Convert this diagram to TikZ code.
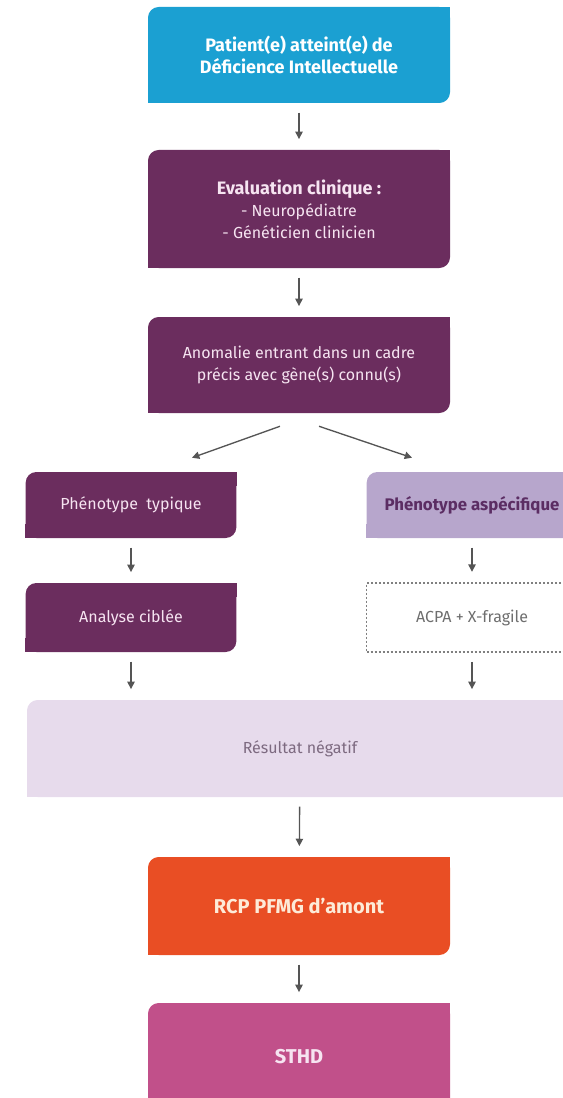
\documentclass[tikz,border=0pt]{standalone}
\usepackage{fontspec}
\setmainfont{Fira Sans}
\usetikzlibrary{arrows.meta, calc}

\definecolor{cblue}{HTML}{1BA0D2}
\definecolor{cplum}{HTML}{6B2D5E}
\definecolor{clilac}{HTML}{B7A6CC}
\definecolor{cmist}{HTML}{E7DBEC}
\definecolor{corange}{HTML}{E94E24}
\definecolor{cpink}{HTML}{C1508A}
\definecolor{carrow}{HTML}{555555}
\definecolor{tpale}{HTML}{F6E4F1}
\definecolor{tcream}{HTML}{FDEBD8}
\definecolor{tdeep}{HTML}{5B2D63}
\definecolor{tgrey}{HTML}{6E6E6E}
\definecolor{tmauve}{HTML}{7D6A80}

\begin{document}
\begin{tikzpicture}[x=0.75pt,y=-0.75pt,
    leaf/.style={fill=#1, rounded corners=8pt,
        append after command={\pgfextra{
            \fill[#1, sharp corners] (\tikzlastnode.north east) rectangle ++(-14,14);
            \fill[#1, sharp corners] (\tikzlastnode.south west) rectangle ++(14,-14);}}},
    box/.style={inner sep=0pt, align=center, font=\fontsize{12}{16.5}\selectfont},
    heavy/.style={font=\fontsize{13.5}{17}\selectfont\bfseries},
    wide/.style={box, minimum width=226.5pt},
    side/.style={box, minimum width=158pt},
    flow/.style={draw=carrow, line width=1pt, -{Triangle[width=5.5pt,length=5.5pt]},
        shorten <=7pt, shorten >=8pt}]
    \useasboundingbox (0,0) rectangle (562,1098);

    % Main column
    \node[wide, leaf=cblue, minimum height=72pt, text=white, heavy] (patient) at (299,55)
        {Patient(e) atteint(e) de\\Déficience Intellectuelle};
    \node[wide, leaf=cplum, minimum height=88.5pt, text=tpale] (evaluation) at (299,209)
        {{\fontsize{13.5}{15}\selectfont\bfseries Evaluation clinique :}\\- Neuropédiatre\\- Généticien clinicien};
    \node[wide, leaf=cplum, minimum height=72pt, text=tpale] (anomalie) at (299,365)
        {Anomalie entrant dans un cadre\\précis avec gène(s) connu(s)};

    % Left branch
    \node[side, leaf=cplum, minimum height=49.5pt, text=tpale] (typique) at (131,505)
        {Phénotype\ \ typique};
    \node[side, leaf=cplum, minimum height=51.75pt, text=tpale] (ciblee) at (131,617.5)
        {Analyse ciblée};

    % Right branch
    \node[side, leaf=clilac, minimum height=49.5pt, text=tdeep, font=\fontsize{12.6}{15}\selectfont\bfseries]
        (aspecifique) at (472,505) {Phénotype aspécifique};
    \node[side, minimum height=51.75pt, text=tgrey, draw=gray,
        dash pattern=on 1.5pt off 1.5pt, line width=0.8pt] (acpa) at (472,617.5)
        {ACPA + X-fragile};

    % Bottom
    \node[box, leaf=cmist, minimum width=409.5pt, minimum height=72.75pt, text=tmauve]
        (negatif) at (300,748.5) {Résultat négatif};
    \node[wide, leaf=corange, minimum height=73.5pt, text=tcream, font=\fontsize{15}{17}\selectfont\bfseries]
        (rcp) at (299,906) {RCP PFMG d'amont};
    \node[wide, leaf=cpink, minimum height=81pt, text=tpale, font=\fontsize{15}{17}\selectfont\bfseries]
        (sthd) at (299,1057) {STHD};

    % Arrows
    \draw[flow] (patient) -- (evaluation);
    \draw[flow] (evaluation) -- (anomalie);
    \draw[flow, shorten <=0pt, shorten >=0pt] ($(anomalie.south)+(-19,13)$) -- ($(typique.north)+(61,-14)$);
    \draw[flow, shorten <=0pt, shorten >=0pt] ($(anomalie.south)+(20,13)$) -- ($(aspecifique.north)+(-60,-14)$);
    \draw[flow] (typique) -- (ciblee);
    \draw[flow] (aspecifique) -- (acpa);
    \draw[flow] (ciblee.south) -- (ciblee.south |- negatif.north);
    \draw[flow] (acpa.south) -- (acpa.south |- negatif.north);
    \draw[flow] (negatif) -- (rcp);
    \draw[flow] (rcp) -- (sthd);

\end{tikzpicture}
\end{document}
